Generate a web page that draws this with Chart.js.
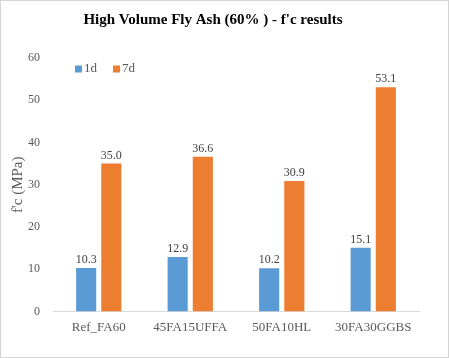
<!DOCTYPE html>
<html>
<head>
<meta charset="utf-8">
<script src="https://cdn.jsdelivr.net/npm/chart.js@4/dist/chart.umd.min.js"></script>
<style>
  html, body { margin: 0; padding: 0; background: #fff; }
  #box { width: 447px; height: 356px; border: 1px solid #d4d4d4; position: relative; }
</style>
</head>
<body>
<div id="box"><canvas id="c" width="447" height="356"></canvas></div>
<script>
const CATEGORIES = ['Ref_FA60', '45FA15UFFA', '50FA10HL', '30FA30GGBS'];
const SERIES_NAMES = ['1d', '7d'];
const VALUES_1D = [10.3, 12.9, 10.2, 15.1];
const VALUES_7D = [35.0, 36.6, 30.9, 53.1];
const Y_TICKS = [0, 10, 20, 30, 40, 50, 60];

const COLORS = ['#5b9bd5', '#ed7d31'];
const FONT = "'Liberation Serif', 'Times New Roman', serif";
const TXT = '#595959';

// value labels over each bar, one decimal like the spreadsheet
const barLabels = {
  id: 'barLabels',
  afterDatasetsDraw(chart) {
    const ctx = chart.ctx;
    ctx.save();
    ctx.font = `12px ${FONT}`;
    ctx.fillStyle = '#404040';
    ctx.textAlign = 'center';
    ctx.textBaseline = 'bottom';
    chart.data.datasets.forEach((ds, di) => {
      chart.getDatasetMeta(di).data.forEach((bar, i) => {
        ctx.fillText(ds.data[i].toFixed(1), bar.x, bar.y - 2);
      });
    });
    ctx.restore();
  }
};

// legend sits inside the plot, top-left
const innerLegend = {
  id: 'innerLegend',
  afterDraw(chart) {
    const ctx = chart.ctx;
    const a = chart.chartArea;
    ctx.save();
    ctx.font = `13px ${FONT}`;
    ctx.textBaseline = 'middle';
    let x = a.left + 22, y = a.top + 11;
    chart.data.datasets.forEach((ds, i) => {
      ctx.fillStyle = COLORS[i];
      ctx.fillRect(x, y - 3.5, 7, 7);
      ctx.fillStyle = TXT;
      ctx.fillText(ds.label, x + 9, y);
      x += 9 + ctx.measureText(ds.label).width + 16;
    });
    ctx.restore();
  }
};

new Chart(document.getElementById('c'), {
  type: 'bar',
  data: {
    labels: CATEGORIES,
    datasets: [
      { label: SERIES_NAMES[0], data: VALUES_1D, backgroundColor: COLORS[0] },
      { label: SERIES_NAMES[1], data: VALUES_7D, backgroundColor: COLORS[1] },
    ],
  },
  options: {
    responsive: false,
    animation: false,
    layout: { padding: { left: 6, right: 29, top: 0, bottom: 14 } },
    categoryPercentage: 0.55,
    barPercentage: 0.8,
    plugins: {
      legend: { display: false },
      tooltip: { enabled: false },
      title: {
        display: true,
        text: 'High Volume Fly Ash (60% ) - f\'c results',
        color: '#000',
        font: { family: FONT, size: 15, weight: 'bold' },
        padding: { top: 10, bottom: 29 },
      },
    },
    scales: {
      x: {
        grid: { display: false, drawTicks: false },
        border: { color: '#d9d9d9' },
        ticks: { color: TXT, font: { family: FONT, size: 13 }, padding: 8 },
      },
      y: {
        min: 0, max: 60,
        afterBuildTicks: (ax) => { ax.ticks = Y_TICKS.map(v => ({ value: v })); },
        afterFit: (ax) => { ax.width = 46; },
        grid: { display: false, drawTicks: false },
        border: { display: false },
        ticks: { color: TXT, font: { family: FONT, size: 12 }, padding: 13 },
        title: {
          display: true, text: 'f\'c (MPa)', color: TXT,
          font: { family: FONT, size: 15 }, padding: { top: 2, bottom: 0 },
        },
      },
    },
  },
  plugins: [barLabels, innerLegend],
});
</script>
</body>
</html>
